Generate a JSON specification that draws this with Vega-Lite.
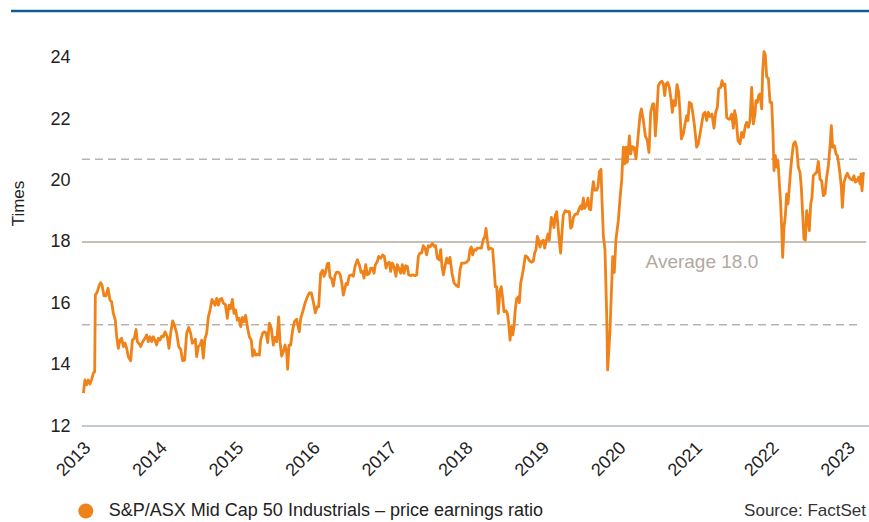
{
  "$schema": "https://vega.github.io/schema/vega-lite/v6.json",
  "width": 797,
  "height": 415,
  "autosize": {"type": "none"},
  "padding": {"left": 72, "top": 11, "right": 0, "bottom": 96},
  "background": "white",
  "config": {
    "view": {"stroke": null},
    "font": "Liberation Sans",
    "legend": {
      "orient": "none",
      "legendX": 4.8,
      "legendY": 491,
      "padding": 0,
      "symbolType": "circle",
      "symbolSize": 225,
      "symbolStrokeWidth": 0,
      "symbolFillColor": "#ef8219",
      "labelFont": "Liberation Sans",
      "labelFontSize": 18,
      "labelColor": "#222222",
      "labelOffset": 14,
      "labelLimit": 0
    }
  },
  "title": {
    "text": "Source: FactSet",
    "orient": "bottom",
    "anchor": "end",
    "frame": "group",
    "font": "Liberation Sans",
    "fontSize": 17,
    "fontWeight": "normal",
    "color": "#333333",
    "offset": -17,
    "dx": -3
  },
  "datasets": {
    "pe": [
      {"t": 2013.129, "v": 13.07}, {"t": 2013.150, "v": 13.5}, {"t": 2013.172, "v": 13.34}, {"t": 2013.194, "v": 13.5},
      {"t": 2013.216, "v": 13.37}, {"t": 2013.238, "v": 13.52}, {"t": 2013.259, "v": 13.72}, {"t": 2013.277, "v": 13.77},
      {"t": 2013.286, "v": 16.27}, {"t": 2013.312, "v": 16.38}, {"t": 2013.338, "v": 16.6}, {"t": 2013.355, "v": 16.67},
      {"t": 2013.373, "v": 16.6}, {"t": 2013.399, "v": 16.24}, {"t": 2013.425, "v": 16.24}, {"t": 2013.451, "v": 16.49},
      {"t": 2013.477, "v": 16.11}, {"t": 2013.499, "v": 16.05}, {"t": 2013.521, "v": 15.67}, {"t": 2013.547, "v": 15.45},
      {"t": 2013.565, "v": 14.91}, {"t": 2013.586, "v": 14.53}, {"t": 2013.608, "v": 14.8}, {"t": 2013.630, "v": 14.86},
      {"t": 2013.652, "v": 14.59}, {"t": 2013.674, "v": 14.7}, {"t": 2013.696, "v": 14.53}, {"t": 2013.717, "v": 14.26},
      {"t": 2013.748, "v": 14.13}, {"t": 2013.770, "v": 14.8}, {"t": 2013.796, "v": 14.86}, {"t": 2013.818, "v": 15.15},
      {"t": 2013.835, "v": 14.75}, {"t": 2013.861, "v": 14.67}, {"t": 2013.879, "v": 14.59}, {"t": 2013.905, "v": 14.75},
      {"t": 2013.935, "v": 14.86}, {"t": 2013.957, "v": 14.97}, {"t": 2013.979, "v": 14.75}, {"t": 2014.001, "v": 14.91},
      {"t": 2014.023, "v": 14.75}, {"t": 2014.044, "v": 14.91}, {"t": 2014.066, "v": 14.8}, {"t": 2014.088, "v": 14.64},
      {"t": 2014.110, "v": 14.86}, {"t": 2014.131, "v": 14.8}, {"t": 2014.153, "v": 14.93}, {"t": 2014.175, "v": 14.91},
      {"t": 2014.197, "v": 15.07}, {"t": 2014.227, "v": 14.91}, {"t": 2014.249, "v": 14.53}, {"t": 2014.271, "v": 15.02},
      {"t": 2014.297, "v": 15.43}, {"t": 2014.319, "v": 15.29}, {"t": 2014.350, "v": 15.02}, {"t": 2014.376, "v": 14.59},
      {"t": 2014.402, "v": 14.5}, {"t": 2014.428, "v": 14.13}, {"t": 2014.454, "v": 14.15}, {"t": 2014.480, "v": 15.02},
      {"t": 2014.507, "v": 15.21}, {"t": 2014.533, "v": 15.02}, {"t": 2014.554, "v": 14.7}, {"t": 2014.576, "v": 14.75},
      {"t": 2014.594, "v": 14.83}, {"t": 2014.611, "v": 14.26}, {"t": 2014.633, "v": 14.59}, {"t": 2014.655, "v": 14.64},
      {"t": 2014.677, "v": 14.8}, {"t": 2014.698, "v": 14.21}, {"t": 2014.720, "v": 14.86}, {"t": 2014.742, "v": 15.02},
      {"t": 2014.764, "v": 15.56}, {"t": 2014.786, "v": 15.78}, {"t": 2014.812, "v": 16.13}, {"t": 2014.829, "v": 16.05},
      {"t": 2014.851, "v": 15.94}, {"t": 2014.873, "v": 16.16}, {"t": 2014.895, "v": 15.94}, {"t": 2014.916, "v": 16.13},
      {"t": 2014.938, "v": 16.16}, {"t": 2014.960, "v": 16.0}, {"t": 2014.986, "v": 15.97}, {"t": 2015.012, "v": 15.51},
      {"t": 2015.034, "v": 15.94}, {"t": 2015.056, "v": 15.83}, {"t": 2015.078, "v": 16.13}, {"t": 2015.099, "v": 15.67},
      {"t": 2015.121, "v": 15.78}, {"t": 2015.143, "v": 15.45}, {"t": 2015.165, "v": 15.51}, {"t": 2015.187, "v": 15.24},
      {"t": 2015.208, "v": 15.54}, {"t": 2015.230, "v": 15.4}, {"t": 2015.252, "v": 15.61}, {"t": 2015.274, "v": 15.24},
      {"t": 2015.300, "v": 14.91}, {"t": 2015.326, "v": 14.8}, {"t": 2015.344, "v": 14.28}, {"t": 2015.361, "v": 14.48},
      {"t": 2015.383, "v": 14.31}, {"t": 2015.405, "v": 14.34}, {"t": 2015.431, "v": 14.31}, {"t": 2015.448, "v": 14.8},
      {"t": 2015.474, "v": 15.02}, {"t": 2015.496, "v": 15.07}, {"t": 2015.518, "v": 15.04}, {"t": 2015.540, "v": 14.72},
      {"t": 2015.562, "v": 15.35}, {"t": 2015.588, "v": 15.18}, {"t": 2015.614, "v": 14.64}, {"t": 2015.636, "v": 14.89},
      {"t": 2015.658, "v": 14.75}, {"t": 2015.684, "v": 15.56}, {"t": 2015.701, "v": 14.75}, {"t": 2015.723, "v": 14.28},
      {"t": 2015.745, "v": 14.42}, {"t": 2015.767, "v": 14.64}, {"t": 2015.788, "v": 14.42}, {"t": 2015.801, "v": 13.85},
      {"t": 2015.819, "v": 14.64}, {"t": 2015.841, "v": 14.64}, {"t": 2015.867, "v": 15.13}, {"t": 2015.889, "v": 15.4},
      {"t": 2015.919, "v": 15.48}, {"t": 2015.941, "v": 15.21}, {"t": 2015.954, "v": 15.07}, {"t": 2015.972, "v": 15.51},
      {"t": 2015.998, "v": 15.72}, {"t": 2016.028, "v": 16.0}, {"t": 2016.059, "v": 16.21}, {"t": 2016.085, "v": 16.34},
      {"t": 2016.111, "v": 16.34}, {"t": 2016.137, "v": 16.05}, {"t": 2016.163, "v": 15.69}, {"t": 2016.189, "v": 15.89},
      {"t": 2016.207, "v": 15.89}, {"t": 2016.233, "v": 16.97}, {"t": 2016.259, "v": 17.08}, {"t": 2016.277, "v": 16.88},
      {"t": 2016.299, "v": 17.02}, {"t": 2016.320, "v": 17.29}, {"t": 2016.338, "v": 17.31}, {"t": 2016.355, "v": 16.86},
      {"t": 2016.377, "v": 16.8}, {"t": 2016.399, "v": 16.56}, {"t": 2016.421, "v": 16.91}, {"t": 2016.442, "v": 17.02},
      {"t": 2016.464, "v": 17.02}, {"t": 2016.486, "v": 16.95}, {"t": 2016.508, "v": 16.7}, {"t": 2016.530, "v": 16.27},
      {"t": 2016.565, "v": 16.64}, {"t": 2016.582, "v": 16.61}, {"t": 2016.608, "v": 16.9}, {"t": 2016.639, "v": 16.93},
      {"t": 2016.660, "v": 16.88}, {"t": 2016.682, "v": 17.2}, {"t": 2016.713, "v": 17.42}, {"t": 2016.739, "v": 17.26},
      {"t": 2016.761, "v": 17.01}, {"t": 2016.783, "v": 17.04}, {"t": 2016.800, "v": 16.82}, {"t": 2016.822, "v": 17.26},
      {"t": 2016.844, "v": 16.93}, {"t": 2016.870, "v": 16.98}, {"t": 2016.887, "v": 17.15}, {"t": 2016.909, "v": 17.15},
      {"t": 2016.931, "v": 16.98}, {"t": 2016.948, "v": 17.26}, {"t": 2016.974, "v": 17.36}, {"t": 2016.992, "v": 17.53},
      {"t": 2017.018, "v": 17.47}, {"t": 2017.044, "v": 17.58}, {"t": 2017.066, "v": 17.53}, {"t": 2017.088, "v": 17.15},
      {"t": 2017.105, "v": 17.31}, {"t": 2017.131, "v": 17.34}, {"t": 2017.149, "v": 17.04}, {"t": 2017.170, "v": 17.31},
      {"t": 2017.192, "v": 17.2}, {"t": 2017.218, "v": 16.88}, {"t": 2017.236, "v": 17.26}, {"t": 2017.258, "v": 17.12},
      {"t": 2017.280, "v": 16.98}, {"t": 2017.301, "v": 17.26}, {"t": 2017.323, "v": 16.98}, {"t": 2017.345, "v": 17.23},
      {"t": 2017.367, "v": 17.2}, {"t": 2017.384, "v": 16.93}, {"t": 2017.410, "v": 16.9}, {"t": 2017.437, "v": 16.93},
      {"t": 2017.467, "v": 16.9}, {"t": 2017.489, "v": 16.93}, {"t": 2017.511, "v": 17.53}, {"t": 2017.532, "v": 17.64},
      {"t": 2017.554, "v": 17.64}, {"t": 2017.576, "v": 17.88}, {"t": 2017.598, "v": 17.8}, {"t": 2017.620, "v": 17.58},
      {"t": 2017.641, "v": 17.88}, {"t": 2017.663, "v": 17.84}, {"t": 2017.694, "v": 17.95}, {"t": 2017.716, "v": 17.86},
      {"t": 2017.737, "v": 17.88}, {"t": 2017.759, "v": 17.47}, {"t": 2017.785, "v": 17.42}, {"t": 2017.803, "v": 17.75},
      {"t": 2017.820, "v": 17.2}, {"t": 2017.838, "v": 16.93}, {"t": 2017.859, "v": 17.2}, {"t": 2017.881, "v": 17.47},
      {"t": 2017.903, "v": 17.31}, {"t": 2017.925, "v": 17.5}, {"t": 2017.951, "v": 16.98}, {"t": 2017.977, "v": 16.67},
      {"t": 2018.003, "v": 16.59}, {"t": 2018.034, "v": 16.54}, {"t": 2018.056, "v": 17.09}, {"t": 2018.077, "v": 17.31},
      {"t": 2018.108, "v": 17.31}, {"t": 2018.143, "v": 17.34}, {"t": 2018.169, "v": 17.42}, {"t": 2018.186, "v": 17.75},
      {"t": 2018.204, "v": 17.84}, {"t": 2018.221, "v": 17.58}, {"t": 2018.243, "v": 17.75}, {"t": 2018.265, "v": 17.73},
      {"t": 2018.282, "v": 17.8}, {"t": 2018.308, "v": 17.8}, {"t": 2018.335, "v": 17.8}, {"t": 2018.361, "v": 18.09},
      {"t": 2018.378, "v": 18.15}, {"t": 2018.396, "v": 18.44}, {"t": 2018.413, "v": 18.06}, {"t": 2018.431, "v": 17.76},
      {"t": 2018.457, "v": 17.8}, {"t": 2018.483, "v": 17.76}, {"t": 2018.500, "v": 17.2}, {"t": 2018.518, "v": 16.54},
      {"t": 2018.535, "v": 16.54}, {"t": 2018.557, "v": 15.67}, {"t": 2018.579, "v": 16.43}, {"t": 2018.596, "v": 16.54},
      {"t": 2018.614, "v": 16.16}, {"t": 2018.631, "v": 15.73}, {"t": 2018.657, "v": 15.76}, {"t": 2018.675, "v": 15.67},
      {"t": 2018.692, "v": 15.35}, {"t": 2018.710, "v": 14.8}, {"t": 2018.727, "v": 15.24}, {"t": 2018.745, "v": 14.97},
      {"t": 2018.762, "v": 15.24}, {"t": 2018.779, "v": 15.8}, {"t": 2018.797, "v": 16.16}, {"t": 2018.819, "v": 16.21},
      {"t": 2018.832, "v": 16.02}, {"t": 2018.849, "v": 16.65}, {"t": 2018.875, "v": 16.98}, {"t": 2018.893, "v": 17.26},
      {"t": 2018.910, "v": 17.55}, {"t": 2018.936, "v": 17.51}, {"t": 2018.962, "v": 17.4}, {"t": 2018.989, "v": 17.34},
      {"t": 2019.015, "v": 17.37}, {"t": 2019.032, "v": 17.64}, {"t": 2019.050, "v": 17.75}, {"t": 2019.067, "v": 18.18},
      {"t": 2019.085, "v": 18.06}, {"t": 2019.102, "v": 17.83}, {"t": 2019.119, "v": 18.01}, {"t": 2019.146, "v": 18.06},
      {"t": 2019.163, "v": 17.8}, {"t": 2019.181, "v": 18.01}, {"t": 2019.207, "v": 18.26}, {"t": 2019.224, "v": 18.06},
      {"t": 2019.250, "v": 18.8}, {"t": 2019.268, "v": 18.71}, {"t": 2019.285, "v": 18.47}, {"t": 2019.303, "v": 18.88},
      {"t": 2019.320, "v": 18.99}, {"t": 2019.338, "v": 18.5}, {"t": 2019.355, "v": 18.01}, {"t": 2019.372, "v": 17.64},
      {"t": 2019.390, "v": 18.34}, {"t": 2019.407, "v": 18.88}, {"t": 2019.433, "v": 19.02}, {"t": 2019.460, "v": 18.99},
      {"t": 2019.486, "v": 18.99}, {"t": 2019.503, "v": 18.45}, {"t": 2019.521, "v": 18.5}, {"t": 2019.538, "v": 18.8},
      {"t": 2019.564, "v": 18.91}, {"t": 2019.590, "v": 18.91}, {"t": 2019.617, "v": 19.1}, {"t": 2019.634, "v": 19.18},
      {"t": 2019.651, "v": 19.07}, {"t": 2019.669, "v": 19.43}, {"t": 2019.686, "v": 19.1}, {"t": 2019.713, "v": 19.21},
      {"t": 2019.730, "v": 19.43}, {"t": 2019.747, "v": 19.07}, {"t": 2019.765, "v": 19.05}, {"t": 2019.782, "v": 19.59},
      {"t": 2019.800, "v": 19.97}, {"t": 2019.817, "v": 19.69}, {"t": 2019.843, "v": 19.69}, {"t": 2019.861, "v": 19.8},
      {"t": 2019.878, "v": 20.29}, {"t": 2019.900, "v": 20.37}, {"t": 2019.913, "v": 19.37}, {"t": 2019.931, "v": 18.18},
      {"t": 2019.952, "v": 17.75}, {"t": 2019.974, "v": 15.67}, {"t": 2019.987, "v": 13.83}, {"t": 2020.018, "v": 15.13},
      {"t": 2020.053, "v": 17.52}, {"t": 2020.074, "v": 17.01}, {"t": 2020.096, "v": 18.09}, {"t": 2020.127, "v": 18.71},
      {"t": 2020.149, "v": 19.42}, {"t": 2020.170, "v": 20.0}, {"t": 2020.192, "v": 21.09}, {"t": 2020.210, "v": 20.55},
      {"t": 2020.227, "v": 21.09}, {"t": 2020.244, "v": 20.6}, {"t": 2020.271, "v": 21.46}, {"t": 2020.288, "v": 20.87},
      {"t": 2020.306, "v": 21.11}, {"t": 2020.332, "v": 21.09}, {"t": 2020.358, "v": 20.71}, {"t": 2020.384, "v": 21.41},
      {"t": 2020.410, "v": 22.12}, {"t": 2020.428, "v": 22.34}, {"t": 2020.454, "v": 21.96}, {"t": 2020.480, "v": 21.46},
      {"t": 2020.506, "v": 21.3}, {"t": 2020.528, "v": 20.92}, {"t": 2020.550, "v": 22.23}, {"t": 2020.576, "v": 22.5},
      {"t": 2020.593, "v": 22.5}, {"t": 2020.611, "v": 21.46}, {"t": 2020.628, "v": 22.06}, {"t": 2020.650, "v": 23.1},
      {"t": 2020.672, "v": 23.2}, {"t": 2020.698, "v": 23.24}, {"t": 2020.715, "v": 23.15}, {"t": 2020.733, "v": 22.77},
      {"t": 2020.750, "v": 23.15}, {"t": 2020.772, "v": 23.2}, {"t": 2020.794, "v": 23.04}, {"t": 2020.816, "v": 22.66},
      {"t": 2020.833, "v": 22.23}, {"t": 2020.851, "v": 22.61}, {"t": 2020.872, "v": 22.45}, {"t": 2020.894, "v": 23.13},
      {"t": 2020.916, "v": 22.88}, {"t": 2020.933, "v": 22.23}, {"t": 2020.951, "v": 21.36}, {"t": 2020.977, "v": 21.52},
      {"t": 2020.999, "v": 21.85}, {"t": 2021.021, "v": 22.12}, {"t": 2021.038, "v": 21.96}, {"t": 2021.055, "v": 22.55},
      {"t": 2021.082, "v": 22.5}, {"t": 2021.099, "v": 22.23}, {"t": 2021.125, "v": 21.74}, {"t": 2021.151, "v": 21.09},
      {"t": 2021.173, "v": 21.2}, {"t": 2021.195, "v": 21.52}, {"t": 2021.217, "v": 21.85}, {"t": 2021.238, "v": 22.17},
      {"t": 2021.260, "v": 22.23}, {"t": 2021.282, "v": 21.96}, {"t": 2021.304, "v": 22.23}, {"t": 2021.326, "v": 22.09},
      {"t": 2021.352, "v": 22.17}, {"t": 2021.378, "v": 21.71}, {"t": 2021.400, "v": 22.23}, {"t": 2021.422, "v": 22.39},
      {"t": 2021.439, "v": 22.99}, {"t": 2021.465, "v": 23.04}, {"t": 2021.483, "v": 23.26}, {"t": 2021.500, "v": 23.1},
      {"t": 2021.522, "v": 23.15}, {"t": 2021.544, "v": 22.06}, {"t": 2021.566, "v": 22.01}, {"t": 2021.587, "v": 22.01},
      {"t": 2021.609, "v": 22.17}, {"t": 2021.631, "v": 21.71}, {"t": 2021.648, "v": 22.28}, {"t": 2021.666, "v": 22.06},
      {"t": 2021.692, "v": 21.3}, {"t": 2021.718, "v": 21.2}, {"t": 2021.740, "v": 21.57}, {"t": 2021.762, "v": 21.41},
      {"t": 2021.788, "v": 21.79}, {"t": 2021.805, "v": 21.9}, {"t": 2021.827, "v": 21.74}, {"t": 2021.849, "v": 21.96},
      {"t": 2021.871, "v": 23.04}, {"t": 2021.893, "v": 21.85}, {"t": 2021.914, "v": 22.17}, {"t": 2021.927, "v": 22.61},
      {"t": 2021.945, "v": 22.55}, {"t": 2021.962, "v": 22.77}, {"t": 2021.980, "v": 22.83}, {"t": 2022.002, "v": 22.34},
      {"t": 2022.015, "v": 23.59}, {"t": 2022.032, "v": 24.21}, {"t": 2022.049, "v": 24.1}, {"t": 2022.067, "v": 23.39},
      {"t": 2022.089, "v": 23.34}, {"t": 2022.111, "v": 22.55}, {"t": 2022.132, "v": 22.55}, {"t": 2022.150, "v": 21.52},
      {"t": 2022.163, "v": 20.33}, {"t": 2022.180, "v": 20.82}, {"t": 2022.198, "v": 20.44}, {"t": 2022.215, "v": 20.65},
      {"t": 2022.233, "v": 19.89}, {"t": 2022.250, "v": 19.24}, {"t": 2022.263, "v": 18.48}, {"t": 2022.276, "v": 17.5},
      {"t": 2022.294, "v": 18.48}, {"t": 2022.311, "v": 18.86}, {"t": 2022.329, "v": 19.57}, {"t": 2022.346, "v": 19.24},
      {"t": 2022.363, "v": 19.78}, {"t": 2022.381, "v": 20.37}, {"t": 2022.398, "v": 20.8}, {"t": 2022.416, "v": 21.18},
      {"t": 2022.438, "v": 21.27}, {"t": 2022.459, "v": 21.09}, {"t": 2022.481, "v": 20.44}, {"t": 2022.503, "v": 20.27},
      {"t": 2022.520, "v": 19.78}, {"t": 2022.538, "v": 18.91}, {"t": 2022.555, "v": 18.1}, {"t": 2022.573, "v": 18.06},
      {"t": 2022.590, "v": 19.02}, {"t": 2022.612, "v": 18.69}, {"t": 2022.625, "v": 18.37}, {"t": 2022.643, "v": 19.24},
      {"t": 2022.660, "v": 19.46}, {"t": 2022.677, "v": 20.16}, {"t": 2022.699, "v": 20.22}, {"t": 2022.721, "v": 20.27},
      {"t": 2022.743, "v": 20.63}, {"t": 2022.765, "v": 20.05}, {"t": 2022.786, "v": 20.0}, {"t": 2022.808, "v": 19.51},
      {"t": 2022.830, "v": 19.57}, {"t": 2022.852, "v": 20.11}, {"t": 2022.874, "v": 20.49}, {"t": 2022.895, "v": 21.09},
      {"t": 2022.913, "v": 21.79}, {"t": 2022.930, "v": 21.09}, {"t": 2022.952, "v": 21.14}, {"t": 2022.974, "v": 20.87},
      {"t": 2022.991, "v": 20.82}, {"t": 2023.009, "v": 20.55}, {"t": 2023.026, "v": 20.22}, {"t": 2023.044, "v": 19.78},
      {"t": 2023.057, "v": 19.13}, {"t": 2023.079, "v": 19.95}, {"t": 2023.105, "v": 20.16}, {"t": 2023.122, "v": 20.24},
      {"t": 2023.144, "v": 20.11}, {"t": 2023.166, "v": 20.05}, {"t": 2023.188, "v": 20.02}, {"t": 2023.209, "v": 20.16},
      {"t": 2023.227, "v": 19.95}, {"t": 2023.249, "v": 20.0}, {"t": 2023.270, "v": 20.11}, {"t": 2023.288, "v": 19.89},
      {"t": 2023.301, "v": 20.22}, {"t": 2023.314, "v": 19.67}, {"t": 2023.331, "v": 20.24}, {"t": 2023.349, "v": 20.22}
    ],
    "bands": [{"v": 20.7, "name": "+1 standard deviation"}, {"v": 15.3, "name": "-1 standard deviation"}],
    "avg": [{"v": 18.0, "label": "Average 18.0"}],
    "frame": [{"part": "frame"}]
  },
  "layer": [
    {
      "data": {"name": "pe"},
      "mark": {"type": "line", "strokeWidth": 2.8, "interpolate": "linear", "strokeJoin": "round", "opacity": 0},
      "encoding": {
        "x": {
          "field": "t", "type": "quantitative",
          "scale": {"domain": [2012.9804, 2023.4055], "nice": false, "zero": false},
          "axis": {
            "values": [2013, 2014, 2015, 2016, 2017, 2018, 2019, 2020, 2021, 2022, 2023],
            "format": "d", "title": null, "grid": false, "domain": false, "ticks": false, "tickSize": 0,
            "labelAngle": -45, "labelAlign": "center", "labelBaseline": "middle", "labelPadding": 33,
            "labelFont": "Liberation Sans", "labelFontSize": 18, "labelColor": "#222222",
            "labelFlush": false, "labelOverlap": false
          }
        },
        "y": {
          "field": "v", "type": "quantitative",
          "scale": {"domain": [12, 25.532], "nice": false, "zero": false},
          "axis": {
            "values": [12, 14, 16, 18, 20, 22, 24],
            "grid": false, "domain": false, "ticks": false, "tickSize": 0, "labelPadding": 2,
            "labelFont": "Liberation Sans", "labelFontSize": 18, "labelColor": "#222222",
            "title": "Times", "titleFont": "Liberation Sans", "titleFontSize": 17, "titleFontWeight": "normal",
            "titleColor": "#222222", "titleAngle": -90, "titleAlign": "center", "titleBaseline": "middle",
            "titleX": -53.5, "titleY": 192
          }
        },
        "color": {
          "datum": "S&P/ASX Mid Cap 50 Industrials – price earnings ratio",
          "type": "nominal",
          "scale": {"range": ["#ef8219"]},
          "legend": {
            "title": null,
            "encode": {"symbols": {"update": {"fill": {"value": "#ef8219"}, "fillOpacity": {"value": 1}, "strokeWidth": {"value": 0}, "opacity": {"value": 1}}}}
          }
        }
      }
    },
    {
      "data": {"name": "frame"},
      "mark": {"type": "rule", "color": "#0d5c96", "strokeWidth": 2.5},
      "encoding": {"x": {"datum": 2012.1825}, "x2": {"datum": 2023.4055}, "y": {"datum": 25.532}}
    },
    {
      "data": {"name": "frame"},
      "mark": {"type": "rule", "color": "#8794a1", "strokeWidth": 1.2},
      "encoding": {"x": {"datum": 2013.111}, "x2": {"datum": 2023.4055}, "y": {"datum": 12}}
    },
    {
      "data": {"name": "bands"},
      "mark": {"type": "rule", "color": "#bcb4ac", "strokeWidth": 1.5, "strokeDash": [8, 5]},
      "encoding": {"x": {"datum": 2013.111}, "x2": {"datum": 2023.29}, "y": {"field": "v", "type": "quantitative"}}
    },
    {
      "data": {"name": "avg"},
      "mark": {"type": "rule", "color": "#b3aba2", "strokeWidth": 1.5},
      "encoding": {"x": {"datum": 2013.111}, "x2": {"datum": 2023.37}, "y": {"field": "v", "type": "quantitative"}}
    },
    {
      "data": {"name": "pe"},
      "mark": {"type": "line", "strokeWidth": 2.8, "color": "#ef8219", "strokeJoin": "round"},
      "encoding": {"x": {"field": "t", "type": "quantitative"}, "y": {"field": "v", "type": "quantitative"}}
    },
    {
      "data": {"name": "avg"},
      "mark": {"type": "text", "font": "Liberation Sans", "fontSize": 19, "color": "#b2a99f", "align": "center", "baseline": "alphabetic", "dy": 26},
      "encoding": {"x": {"datum": 2021.22}, "y": {"field": "v", "type": "quantitative"}, "text": {"field": "label"}}
    }
  ]
}
